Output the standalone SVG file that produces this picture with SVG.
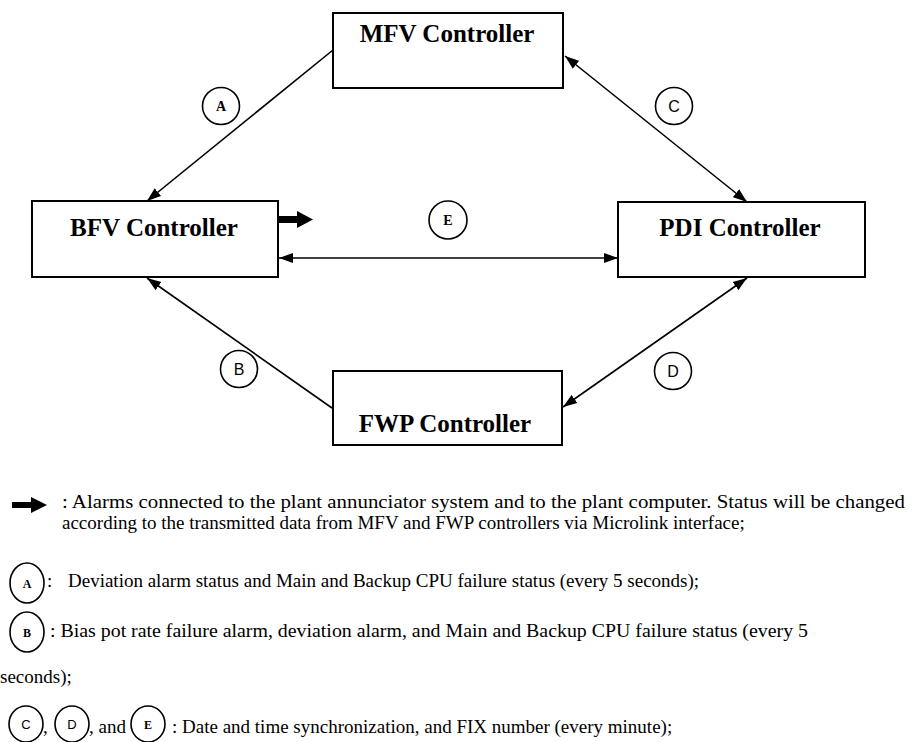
<svg xmlns="http://www.w3.org/2000/svg" width="917" height="742" viewBox="0 0 917 742">
<style>
.box{fill:#fff;stroke:#000;stroke-width:2}
.lbl{font-family:"Liberation Serif",serif;font-weight:bold;font-size:25px;fill:#000;text-anchor:middle}
.cn{fill:none;stroke:#000;stroke-width:1.6}
.circ{fill:#fff;stroke:#000;stroke-width:1.6}
.cl{font-family:"Liberation Serif",serif;font-weight:bold;font-size:14px;fill:#000;text-anchor:middle}
.cs{font-family:"Liberation Sans",sans-serif;font-size:16px;fill:#000;text-anchor:middle}
.lg{font-family:"Liberation Serif",serif;font-size:19px;fill:#000}
.lc{font-family:"Liberation Serif",serif;font-weight:bold;font-size:12px;fill:#000;text-anchor:middle}
.lcs{font-family:"Liberation Sans",sans-serif;font-size:13px;fill:#000;text-anchor:middle}
</style>
<defs>
<marker id="ah" markerUnits="userSpaceOnUse" markerWidth="15" markerHeight="11" refX="14" refY="5.5" orient="auto-start-reverse" viewBox="0 0 15 11">
<path d="M0,0.5 L14,5.5 L0,10.5 Z" fill="#000"/>
</marker>
</defs>

<g id="connectors">
<line class="cn" x1="333" y1="50" x2="147" y2="201" marker-end="url(#ah)"/>
<line class="cn" x1="565" y1="56" x2="747" y2="202" marker-start="url(#ah)" marker-end="url(#ah)"/>
<line class="cn" x1="279" y1="258" x2="618" y2="258" marker-start="url(#ah)" marker-end="url(#ah)"/>
<line class="cn" x1="332" y1="408" x2="147" y2="278" marker-end="url(#ah)"/>
<line class="cn" x1="747" y1="278" x2="563" y2="407" marker-start="url(#ah)" marker-end="url(#ah)"/>
<path d="M279,216 H297 V211 L313,219.5 L297,228 V223 H279 Z" fill="#000"/>
</g>

<g id="MFV"><rect class="box" x="333" y="13" width="230" height="75"/><text class="lbl" x="447" y="42">MFV Controller</text></g>
<g id="BFV"><rect class="box" x="32" y="201" width="246" height="76"/><text class="lbl" x="154" y="236">BFV Controller</text></g>
<g id="PDI"><rect class="box" x="618" y="202" width="247" height="75"/><text class="lbl" x="740" y="236">PDI Controller</text></g>
<g id="FWP"><rect class="box" x="333" y="371" width="229" height="74"/><text class="lbl" x="445" y="432">FWP Controller</text></g>

<g id="labelA"><circle class="circ" cx="221" cy="106" r="18.5"/><text class="cl" x="221" y="111">A</text></g>
<g id="labelC"><circle class="circ" cx="674" cy="106" r="18.5"/><text class="cs" x="674" y="112">C</text></g>
<g id="labelE"><circle class="circ" cx="448" cy="220" r="19"/><text class="cl" x="448" y="225">E</text></g>
<g id="labelB"><circle class="circ" cx="239" cy="369" r="18.5"/><text class="cs" x="239" y="375">B</text></g>
<g id="labelD"><circle class="circ" cx="673" cy="371" r="18.5"/><text class="cs" x="673" y="377">D</text></g>

<g id="legend">
<path d="M12,502 H31 V497 L47,505 L31,513 V508 H12 Z" fill="#000"/>
<text class="lg" x="62" y="508" textLength="843" lengthAdjust="spacingAndGlyphs">: Alarms connected to the plant annunciator system and to the plant computer. Status will be changed</text>
<text class="lg" x="62" y="529">according to the transmitted data from MFV and FWP controllers via Microlink interface;</text>

<ellipse class="circ" cx="27" cy="583" rx="17" ry="20"/><text class="lc" x="27" y="588">A</text>
<text class="lg" x="47" y="587">:</text>
<text class="lg" x="68" y="587">Deviation alarm status and Main and Backup CPU failure  status (every 5 seconds);</text>

<ellipse class="circ" cx="27" cy="632" rx="17" ry="20"/><text class="lc" x="27" y="637">B</text>
<text class="lg" x="50" y="637" textLength="758" lengthAdjust="spacingAndGlyphs">: Bias pot rate failure alarm, deviation alarm, and Main and Backup CPU failure status (every 5</text>
<text class="lg" x="0" y="683">seconds);</text>

<ellipse class="circ" cx="26" cy="724" rx="17" ry="18"/><text class="lcs" x="26" y="729">C</text>
<text class="lg" x="43" y="733">,</text>
<ellipse class="circ" cx="72" cy="724" rx="17" ry="18"/><text class="lcs" x="72" y="729">D</text>
<text class="lg" x="89" y="733">, and</text>
<ellipse class="circ" cx="148" cy="724" rx="17" ry="18"/><text class="lc" x="148" y="729">E</text>
<text class="lg" x="172" y="733">: Date and time synchronization, and FIX number (every minute);</text>
</g>
</svg>
